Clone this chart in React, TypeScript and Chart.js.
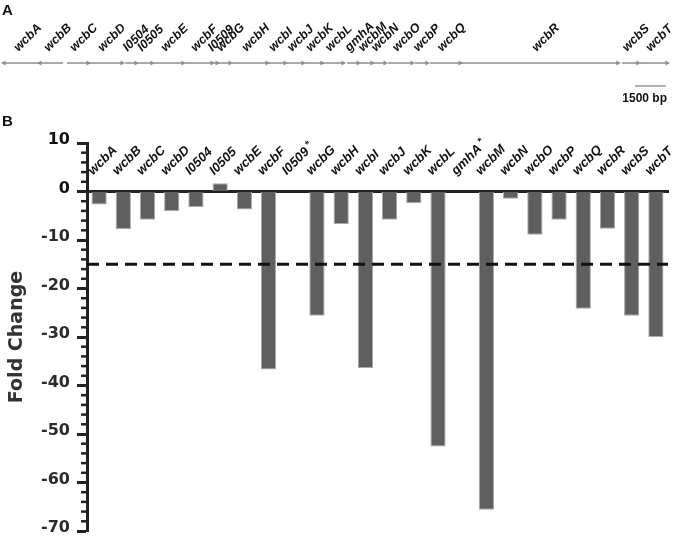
import { useEffect, useRef } from "react";
import { Chart, registerables } from "chart.js";

Chart.register(...registerables);

// ---------- Panel A: gene map (positions in bp) ----------
const geneNames = ["wcbA", "wcbB", "wcbC", "wcbD", "I0504", "I0505", "wcbE", "wcbF", "I0509", "wcbG", "wcbH", "wcbI", "wcbJ", "wcbK", "wcbL", "gmhA", "wcbM", "wcbN", "wcbO", "wcbP", "wcbQ", "wcbR", "wcbS", "wcbT"];
const geneStart = [0, 1740, 3050, 4120, 5860, 6490, 7260, 8760, 10170, 10360, 11030, 12780, 13700, 14570, 15440, 16600, 17230, 17860, 18590, 19890, 20620, 22120, 29910, 30780];
const geneEnd = [1690, 2860, 4070, 5710, 6390, 7160, 8660, 10070, 10310, 10940, 12730, 13600, 14470, 15390, 16410, 17140, 17810, 18440, 19750, 20470, 22070, 29710, 30680, 32090];
const geneStrand = [-1, -1, 1, 1, 1, 1, 1, 1, 1, 1, 1, 1, 1, 1, 1, 1, 1, 1, 1, 1, 1, 1, 1, 1];
const mapLength = 32090;
const scaleBarStart = 30540;
const scaleBarLength = 1500;
const scaleBarLabel = "1500 bp";

// ---------- Panel B: fold change ----------
const categories = ["wcbA", "wcbB", "wcbC", "wcbD", "I0504", "I0505", "wcbE", "wcbF", "I0509", "wcbG", "wcbH", "wcbI", "wcbJ", "wcbK", "wcbL", "gmhA", "wcbM", "wcbN", "wcbO", "wcbP", "wcbQ", "wcbR", "wcbS", "wcbT"];
const foldChange: (number | null)[] = [-2.7, -7.8, -5.8, -4.0, -3.2, 1.7, -3.7, -36.7, null, -25.6, -6.7, -36.4, -5.8, -2.4, -52.6, null, -65.6, -1.5, -8.9, -5.8, -24.2, -7.7, -25.6, -30.0];
const starred = ["I0509", "gmhA"];
const threshold = -15;
const yMin = -70;
const yMax = 10;
const majorStep = 10;
const minorStep = 2;

const SANS = '"Liberation Sans", Arial, sans-serif';
const DEJA = '"DejaVu Sans", sans-serif';

export default function App() {
  const refA = useRef<HTMLCanvasElement>(null);
  const refB = useRef<HTMLCanvasElement>(null);

  useEffect(() => {
    if (!refA.current || !refB.current) return;

    const lineGray = "#8e8e8e";

    const mapLabels = {
      id: "mapLabels",
      afterDraw(chart: any) {
        const ctx = chart.ctx;
        const xs = chart.scales.x;
        const ys = chart.scales.y;
        ctx.save();
        ctx.fillStyle = "#111";
        ctx.font = `italic bold 12.5px ${SANS}`;
        ctx.textAlign = "left";
        ctx.textBaseline = "alphabetic";
        geneNames.forEach((g, i) => {
          const x = xs.getPixelForValue((geneStart[i] + geneEnd[i]) / 2) - 3;
          const y = ys.getPixelForValue(0) - 11;
          ctx.save();
          ctx.translate(x, y);
          ctx.rotate(-Math.PI / 4);
          ctx.fillText(g, 0, 0);
          ctx.restore();
        });
        ctx.font = `bold 12px ${SANS}`;
        ctx.textAlign = "right";
        ctx.fillText(scaleBarLabel, xs.getPixelForValue(scaleBarStart + scaleBarLength) + 1, ys.getPixelForValue(-1) + 16);
        ctx.font = `bold 15px ${SANS}`;
        ctx.textAlign = "left";
        ctx.fillText("A", 2, 15);
        ctx.restore();
      },
    };

    const datasetsA: any[] = geneNames.map((g, i) => ({
      label: g,
      data: [
        { x: geneStart[i], y: 0 },
        { x: geneEnd[i], y: 0 },
      ],
      borderColor: lineGray,
      borderWidth: 1.5,
      pointStyle: "triangle",
      pointRadius: geneStrand[i] > 0 ? [0, 3] : [3, 0],
      pointRotation: geneStrand[i] > 0 ? 90 : -90,
      pointBackgroundColor: lineGray,
      pointBorderColor: lineGray,
      pointBorderWidth: 0,
      clip: false,
    }));
    datasetsA.push({
      label: "scale",
      data: [
        { x: scaleBarStart, y: -1 },
        { x: scaleBarStart + scaleBarLength, y: -1 },
      ],
      borderColor: "#999",
      borderWidth: 1.5,
      pointRadius: 0,
      clip: false,
    });

    const chartA = new Chart(refA.current, {
      type: "line",
      data: { datasets: datasetsA },
      options: {
        animation: false,
        responsive: true,
        maintainAspectRatio: false,
        layout: { padding: { left: 4, right: 13, top: 51.5, bottom: 12.5 } },
        plugins: { legend: { display: false }, tooltip: { enabled: false } },
        scales: {
          x: { type: "linear", min: 0, max: mapLength, display: false },
          y: { type: "linear", min: -1.5, max: 0.5, display: false },
        },
      } as any,
      plugins: [mapLabels],
    });

    const barExtras = {
      id: "barExtras",
      afterDatasetsDraw(chart: any) {
        const ctx = chart.ctx;
        const ys = chart.scales.y;
        const area = chart.chartArea;
        ctx.save();
        ctx.strokeStyle = "#111";
        ctx.lineWidth = 3;
        ctx.setLineDash([12, 7]);
        const ty = ys.getPixelForValue(threshold);
        ctx.beginPath();
        ctx.moveTo(area.left, ty);
        ctx.lineTo(area.right, ty);
        ctx.stroke();
        ctx.restore();
      },
      afterDraw(chart: any) {
        const ctx = chart.ctx;
        const xs = chart.scales.x;
        const ys = chart.scales.y;
        const area = chart.chartArea;
        ctx.save();
        // minor ticks
        ctx.strokeStyle = "#222";
        ctx.lineWidth = 2.5;
        for (let v = yMin; v <= yMax; v += minorStep) {
          if (v % majorStep === 0) continue;
          const y = ys.getPixelForValue(v);
          ctx.beginPath();
          ctx.moveTo(area.left - 6, y);
          ctx.lineTo(area.left, y);
          ctx.stroke();
        }
        // category labels
        ctx.fillStyle = "#111";
        ctx.textAlign = "left";
        ctx.textBaseline = "alphabetic";
        const y0 = ys.getPixelForValue(0);
        categories.forEach((c, i) => {
          const x = xs.getPixelForValue(i) - 6;
          const y = y0 - 16;
          ctx.save();
          ctx.translate(x, y);
          ctx.rotate(-Math.PI / 4);
          ctx.font = `italic bold 13px ${SANS}`;
          ctx.fillText(c, 0, 0);
          if (starred.includes(c)) {
            const w = ctx.measureText(c).width;
            ctx.font = `bold 10px ${SANS}`;
            ctx.fillText("*", w + 3, -4);
          }
          ctx.restore();
        });
        ctx.font = `bold 15px ${SANS}`;
        ctx.fillText("B", 2, 16);
        ctx.restore();
      },
    };

    const chartB = new Chart(refB.current, {
      type: "bar",
      data: {
        labels: categories,
        datasets: [
          {
            data: foldChange,
            backgroundColor: "#5f5f5f",
            borderColor: "#a9a9a9",
            borderWidth: 1,
            barPercentage: 0.63,
            categoryPercentage: 1,
          },
        ],
      },
      options: {
        animation: false,
        responsive: true,
        maintainAspectRatio: false,
        layout: { padding: { left: 0, right: 12, top: 33, bottom: 9 } },
        plugins: { legend: { display: false }, tooltip: { enabled: false } },
        scales: {
          x: {
            position: { y: 0 },
            z: 1,
            grid: { display: false },
            ticks: { display: false },
            border: { display: true, color: "#222", width: 3 },
          },
          y: {
            min: yMin,
            max: yMax,
            afterFit: (s: any) => {
              s.width = 87;
              s.paddingTop = 0;
              s.paddingBottom = 0;
            },
            ticks: {
              stepSize: majorStep,
              autoSkip: false,
              padding: 7,
              labelOffset: -3,
              color: (c: any) => (c.tick && c.tick.value >= 0 ? "#111" : "#2b2b2b"),
              font: { family: DEJA, size: 16, weight: "bold" },
            },
            grid: {
              drawOnChartArea: false,
              drawTicks: true,
              tickLength: 10,
              tickWidth: 3,
              tickColor: "#222",
            },
            border: { display: true, color: "#222", width: 3 },
            title: {
              display: true,
              text: "Fold Change",
              color: "#333",
              font: { family: DEJA, size: 19, weight: "bold" },
              padding: { top: 6, bottom: 0 },
            },
          },
        },
      } as any,
      plugins: [barExtras],
    });

    return () => {
      chartA.destroy();
      chartB.destroy();
    };
  }, []);

  return (
    <div style={{ position: "absolute", left: 0, top: 0, width: 680, height: 540, background: "#fff" }}>
      <div style={{ position: "absolute", left: 0, top: 0, width: 680, height: 110 }}>
        <canvas ref={refA} />
      </div>
      <div style={{ position: "absolute", left: 0, top: 110, width: 680, height: 430 }}>
        <canvas ref={refB} />
      </div>
    </div>
  );
}
